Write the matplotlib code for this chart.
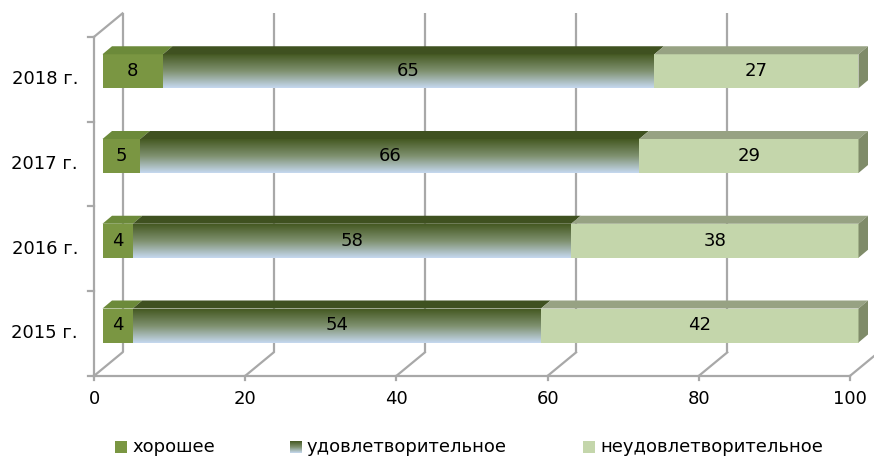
import numpy as np
import matplotlib
matplotlib.use("Agg")
import matplotlib.pyplot as plt
from matplotlib.patches import Polygon, Rectangle
from matplotlib.colors import to_rgb

# ---- data ----
years = ["2015 г.", "2016 г.", "2017 г.", "2018 г."]
good = [4, 4, 5, 8]
satisfactory = [54, 58, 66, 65]
unsatisfactory = [42, 38, 29, 27]
series_names = ["хорошее", "удовлетворительное", "неудовлетворительное"]
x_ticks = [0, 20, 40, 60, 80, 100]

plt.rcParams["font.family"] = ["DejaVu Sans"]
FS = 13

W, H = 874, 459
fig = plt.figure(figsize=(W / 100, H / 100), dpi=100)
ax = fig.add_axes([0, 0, 1, 1])

# pixel scale of one value unit / one category
SX, SY = 7.56, 84.75
ax.set_xlim(-94 / SX, (W - 94) / SX)
ax.set_ylim(-125.5 / SY, (H - 125.5) / SY)
ax.axis("off")

# 3D projection offsets (in data units)
DEPTH_DX, DEPTH_DY = 28.5 / SX, 23.5 / SY      # full depth of walls/floor
BAR_OX, BAR_OY = 8.5 / SX, 8.0 / SY            # bar front face shift
BAR_DX, BAR_DY = 9.5 / SX, 8.0 / SY            # bar thickness
BAR_HALF = 17.0 / SY

GRID = "#a8a8a8"
LW = 1.6
n = len(years)
y_lo, y_hi = -0.5, n - 0.5

# back wall gridlines and floor diagonals
for v in x_ticks:
    ax.plot([v + DEPTH_DX, v + DEPTH_DX], [y_lo + DEPTH_DY, y_hi + DEPTH_DY],
            color=GRID, lw=LW, zorder=1, solid_capstyle="butt")
    ax.plot([v, v + DEPTH_DX], [y_lo, y_lo + DEPTH_DY], color=GRID, lw=LW, zorder=1)
    ax.plot([v, v], [y_lo, y_lo - 4 / SY], color=GRID, lw=LW, zorder=1)
    ax.text(v, y_lo - 23 / SY, str(v), ha="center", va="center", fontsize=FS, color="black")

# left wall
ax.plot([0, 0], [y_lo, y_hi], color=GRID, lw=LW, zorder=1)
ax.plot([0, DEPTH_DX], [y_hi, y_hi + DEPTH_DY], color=GRID, lw=LW, zorder=1)
for k in range(n + 1):
    yb = y_lo + k
    ax.plot([-6 / SX, 0], [yb, yb], color=GRID, lw=LW, zorder=1)
# floor front edge
ax.plot([0, 100], [y_lo, y_lo], color=GRID, lw=LW, zorder=1)

# category labels
for i, lab in enumerate(years):
    ax.text(-16 / SX, i, lab, ha="right", va="center", fontsize=FS, color="black")

# bar colours
good_front, good_top = "#7a9642", "#6c8a3a"
sat_top_col, sat_mid_col, sat_bot_col, sat_roof = "#455922", "#7f9170", "#c6d9f0", "#3f5120"
uns_front, uns_top, uns_side = "#c4d6ab", "#97a283", "#7f8b69"

# vertical gradient: light blue at the bottom, dark olive at the top
grad_n = 256
t = np.linspace(0, 1, grad_n)
stops = [0.0, 0.5, 1.0]
cols = np.array([to_rgb(sat_bot_col), to_rgb(sat_mid_col), to_rgb(sat_top_col)])
grad = np.stack([np.interp(t, stops, cols[:, k]) for k in range(3)], axis=-1)[:, None, :]


def top_face(a, b, yc, color, z):
    x0, x1 = a + BAR_OX, b + BAR_OX
    yt = yc + BAR_HALF
    ax.add_patch(Polygon([(x0, yt), (x1, yt), (x1 + BAR_DX, yt + BAR_DY),
                          (x0 + BAR_DX, yt + BAR_DY)], closed=True,
                         facecolor=color, edgecolor="none", zorder=z))


for i in range(n):
    yc = i + BAR_OY
    segs = [(0, good[i]), (good[i], good[i] + satisfactory[i]),
            (good[i] + satisfactory[i], good[i] + satisfactory[i] + unsatisfactory[i])]
    vals = [good[i], satisfactory[i], unsatisfactory[i]]
    z = 3 + i
    # хорошее
    a, b = segs[0]
    ax.add_patch(Rectangle((a + BAR_OX, yc - BAR_HALF), b - a, 2 * BAR_HALF,
                           facecolor=good_front, edgecolor="none", zorder=z))
    top_face(a, b, yc, good_top, z)
    # удовлетворительное (vertical gradient)
    a, b = segs[1]
    ax.imshow(grad, extent=[a + BAR_OX, b + BAR_OX, yc - BAR_HALF, yc + BAR_HALF],
              origin="lower", aspect="auto", interpolation="bilinear", zorder=z)
    top_face(a, b, yc, sat_roof, z)
    # неудовлетворительное
    a, b = segs[2]
    ax.add_patch(Rectangle((a + BAR_OX, yc - BAR_HALF), b - a, 2 * BAR_HALF,
                           facecolor=uns_front, edgecolor="none", zorder=z))
    top_face(a, b, yc, uns_top, z)
    xr = b + BAR_OX
    ax.add_patch(Polygon([(xr, yc - BAR_HALF), (xr, yc + BAR_HALF),
                          (xr + BAR_DX, yc + BAR_HALF + BAR_DY),
                          (xr + BAR_DX, yc - BAR_HALF + BAR_DY)], closed=True,
                         facecolor=uns_side, edgecolor="none", zorder=z))
    for (a, b), v in zip(segs, vals):
        ax.text((a + b) / 2 + BAR_OX, yc, str(v), ha="center", va="center",
                fontsize=FS, color="black", zorder=z + 0.5)

ax.set_xlim(-94 / SX, (W - 94) / SX)
ax.set_ylim(-125.5 / SY, (H - 125.5) / SY)

# legend
legend_items = [(115, series_names[0], "solid", good_front),
                (290, series_names[1], "grad", None),
                (583, series_names[2], "solid", uns_front)]
sw, sh, ly = 12, 12, 447
for x_px, name, kind, col in legend_items:
    rect = [x_px / W, (H - ly - sh / 2) / H, sw / W, sh / H]
    if kind == "solid":
        fig.patches.append(Rectangle((rect[0], rect[1]), rect[2], rect[3],
                                     transform=fig.transFigure, facecolor=col,
                                     edgecolor="none"))
    else:
        sax = fig.add_axes(rect)
        sax.imshow(grad, origin="lower", aspect="auto", interpolation="bilinear")
        sax.axis("off")
    fig.text((x_px + sw + 5) / W, (H - ly) / H, name, ha="left", va="center",
             fontsize=FS, color="black")

fig.savefig("out.png", dpi=100)
